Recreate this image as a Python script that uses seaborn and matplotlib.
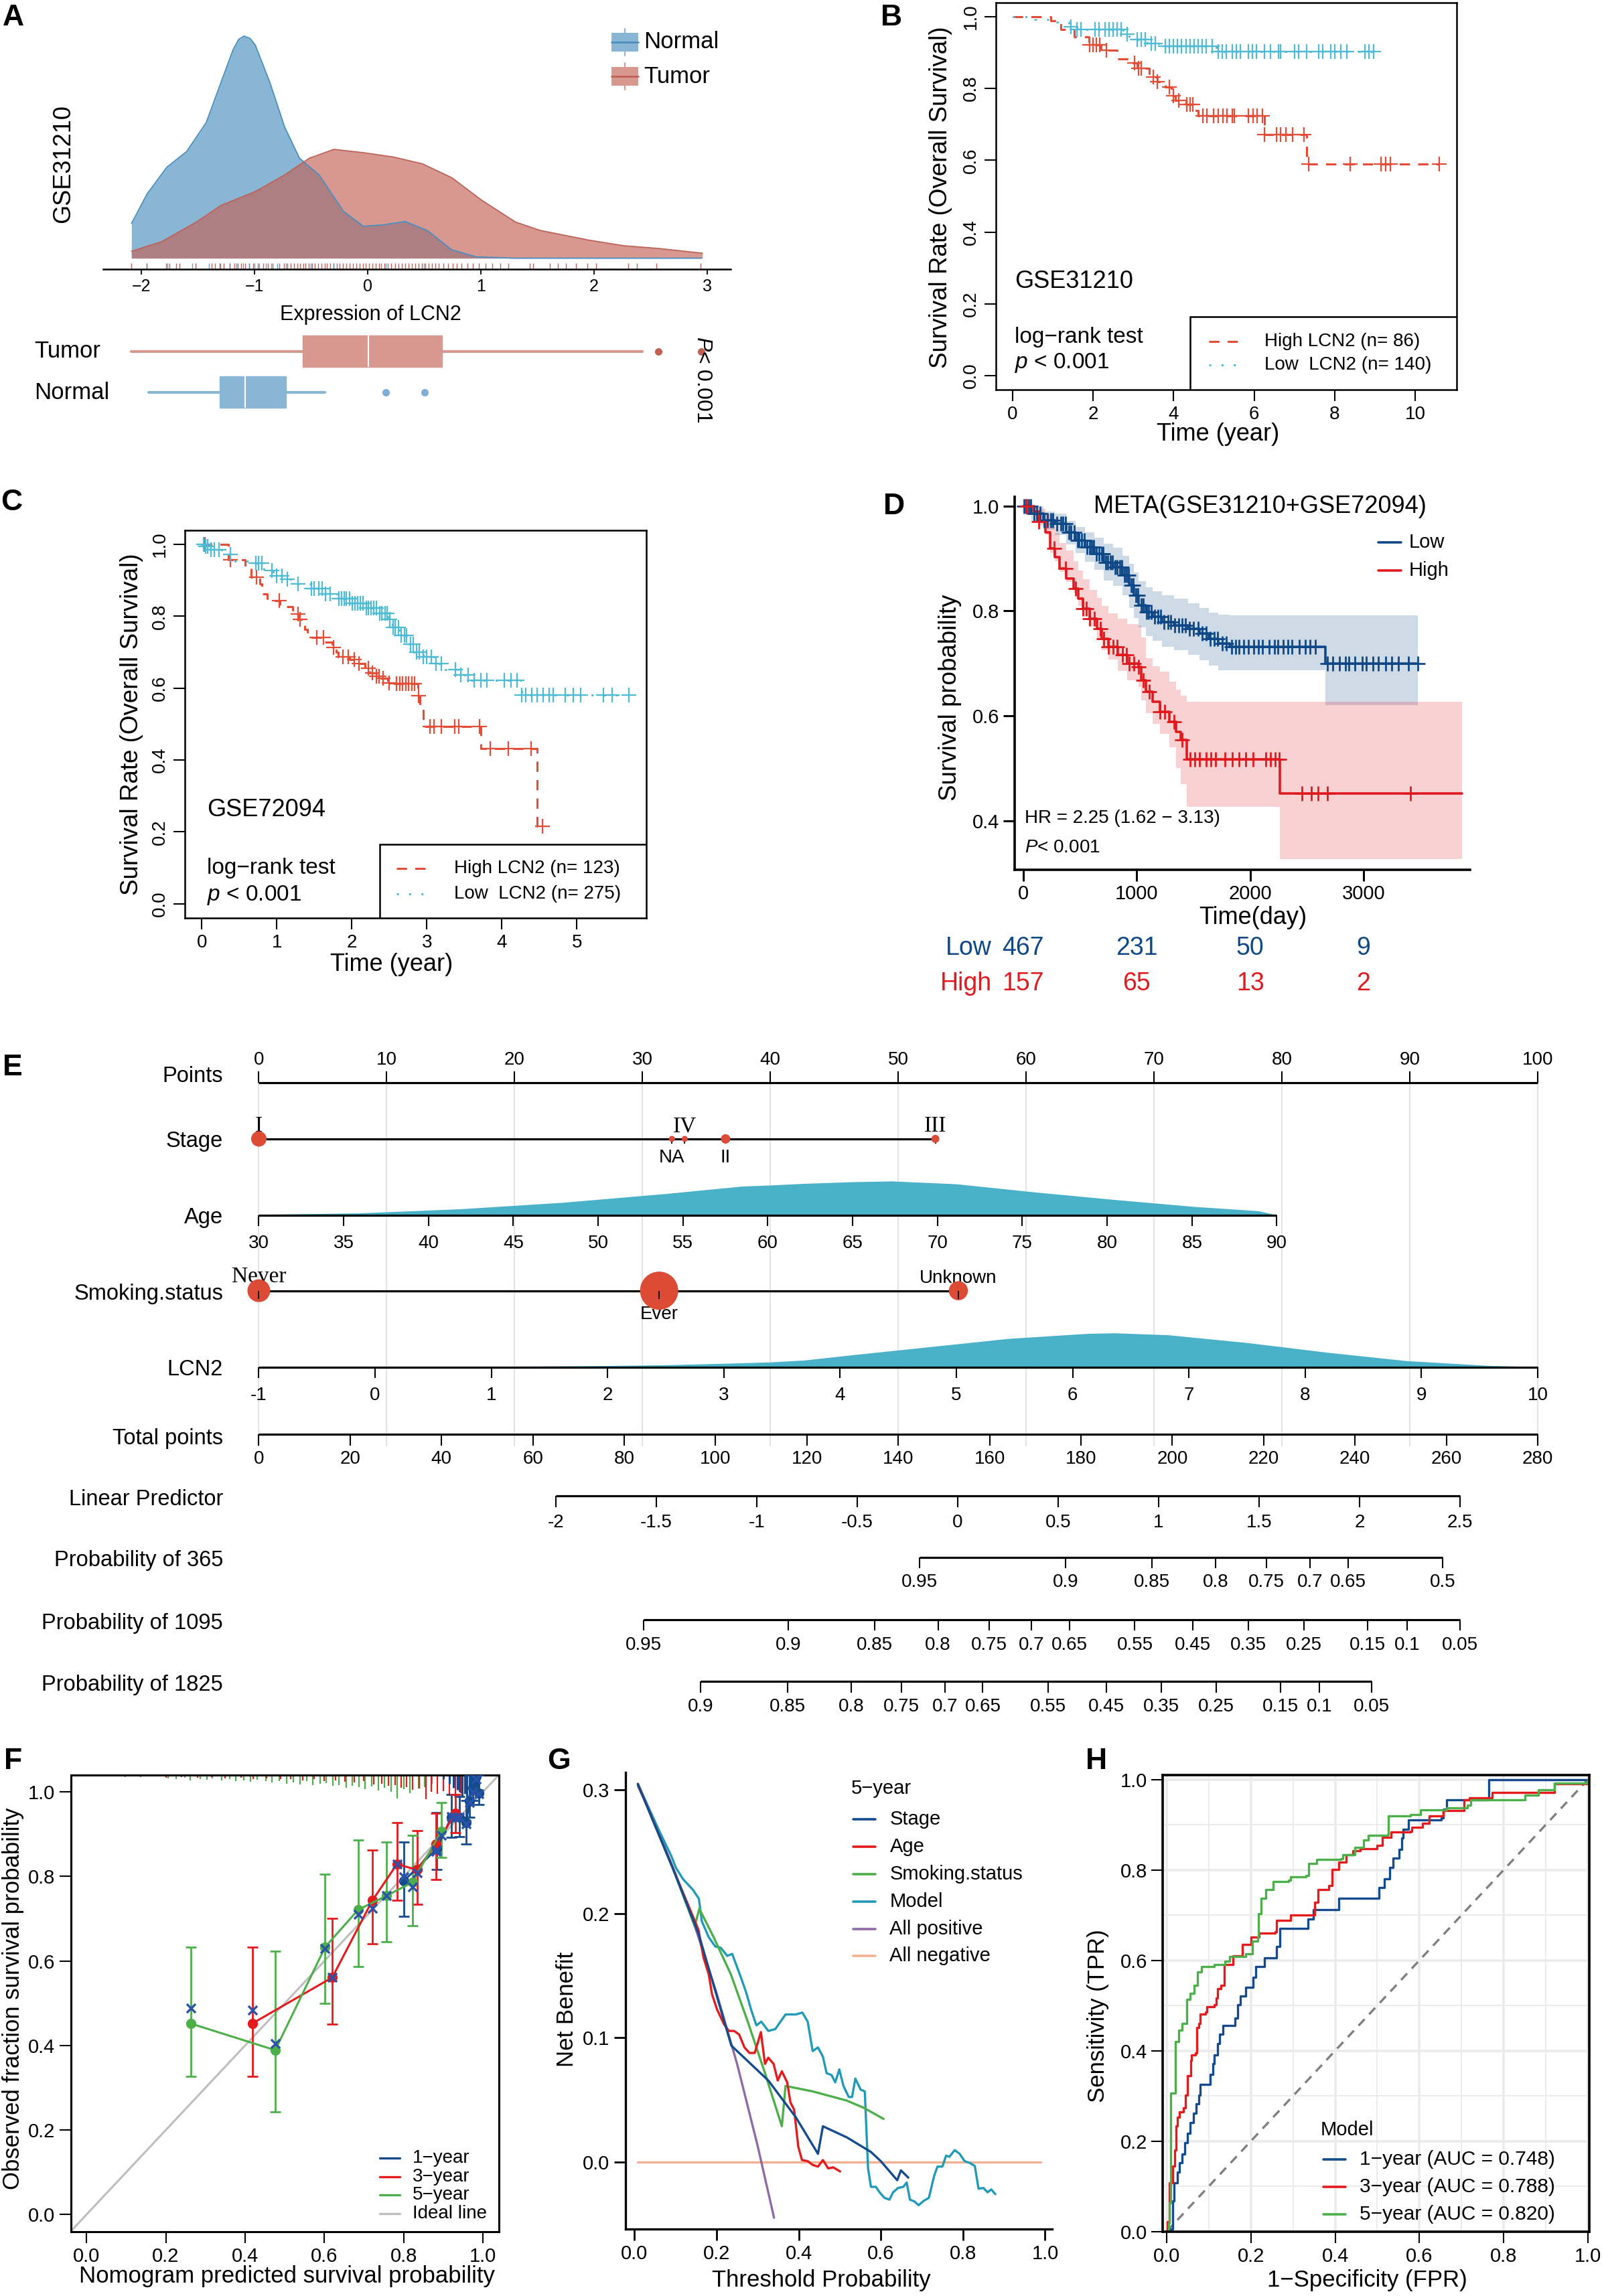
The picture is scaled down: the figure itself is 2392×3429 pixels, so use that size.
import numpy as np
import matplotlib
matplotlib.use("Agg")
import matplotlib.pyplot as plt
import seaborn as sns
from matplotlib.patches import Rectangle
from matplotlib.transforms import blended_transform_factory

W, H = 2392, 3429

# ---------------- A: LCN2 expression in GSE31210 ----------------
normal_x = [-2.087, -1.948, -1.774, -1.60, -1.427, -1.297, -1.188, -1.14, -1.093, -1.04, -0.993, -0.863,
            -0.733, -0.602, -0.429, -0.212, -0.038, 0.135, 0.331, 0.526, 0.743, 0.96, 1.31, 2.0, 2.95]
normal_d = [0.156, 0.29, 0.41, 0.48, 0.61, 0.79, 0.94, 0.985, 1.0, 0.99, 0.96, 0.79,
            0.59, 0.45, 0.375, 0.21, 0.144, 0.15, 0.165, 0.125, 0.0375, 0.006, 0.0, 0.0, 0.0]
tumor_x = [-2.087, -1.818, -1.514, -1.297, -0.993, -0.733, -0.516, -0.299, -0.038, 0.222, 0.483,
           0.743, 1.003, 1.307, 1.524, 1.958, 2.262, 2.566, 2.957]
tumor_d = [0.031, 0.075, 0.1625, 0.2375, 0.30, 0.375, 0.45, 0.49, 0.475, 0.456, 0.425,
           0.3625, 0.2625, 0.1625, 0.125, 0.081, 0.056, 0.044, 0.0225]
rug_tumor = [-2.09, -1.95, -1.78, -1.75, -1.69, -1.66, -1.52, -1.38, -1.35, -1.31, -1.27, -1.22, -1.18,
             -1.15, -1.12, -1.08, -1.05, -1.01, -0.97, -0.92, -0.88, -0.84, -0.78, -0.74, -0.71, -0.68,
             -0.65, -0.62, -0.6, -0.57, -0.55, -0.52, -0.49, -0.47, -0.44, -0.41, -0.38, -0.36, -0.33,
             -0.3, -0.27, -0.25, -0.22, -0.19, -0.16, -0.13, -0.1, -0.07, -0.04, -0.02, 0.01, 0.04, 0.07,
             0.1, 0.12, 0.15, 0.18, 0.21, 0.24, 0.27, 0.3, 0.33, 0.36, 0.39, 0.42, 0.45, 0.48, 0.51, 0.54,
             0.57, 0.6, 0.63, 0.67, 0.71, 0.75, 0.79, 0.83, 0.88, 0.93, 0.98, 1.04, 1.1, 1.17, 1.24, 1.43,
             1.46, 1.61, 1.68, 1.75, 1.84, 1.94, 2.02, 2.3, 2.38, 2.55, 2.94]
rug_normal = [-1.95, -1.77, -1.55, -1.4, -1.3, -1.22, -1.16, -1.1, -1.05, -1.0, -0.96, -0.9, -0.85,
              -0.8, -0.72, -0.5, -0.3, 0.16, 0.5]
box_groups = ["Tumor", "Normal"]
box_whislo = [-2.087, -1.935]
box_q1 = [-0.572, -1.306]
box_med = [0.005, -1.08]
box_q3 = [0.656, -0.72]
box_whishi = [2.427, -0.377]
box_fliers = [[2.566, 2.944], [0.157, 0.504]]

# ---------------- B: GSE31210 Kaplan-Meier ----------------
hiB_t = [0, 0.95, 1.2, 1.53, 1.9, 2.2, 2.6, 2.95, 3.1, 3.4, 3.6, 3.8, 3.95, 4.05, 4.3, 4.5, 4.6, 6.25, 7.3]
hiB_s = [1.0, 0.988, 0.965, 0.943, 0.921, 0.907, 0.882, 0.872, 0.856, 0.832, 0.818, 0.804, 0.779, 0.767,
         0.755, 0.739, 0.723, 0.672, 0.589]
hiB_end = 10.6
hiB_cens = [1.92, 1.99, 2.08, 2.16, 2.33, 3.03, 3.12, 3.2, 3.49, 3.6, 3.89, 4.0, 4.12, 4.32, 4.4, 4.47,
            4.72, 4.82, 4.99, 5.1, 5.22, 5.33, 5.45, 5.51, 5.85, 5.97, 6.08, 6.2, 6.26, 6.55, 6.66, 6.78,
            6.95, 7.24, 7.36, 8.39, 9.15, 9.26, 9.38, 10.59]
loB_t = [0, 0.55, 1.1, 1.4, 1.6, 2.75, 2.9, 3.35, 3.75, 5.05]
loB_s = [1.0, 0.993, 0.985, 0.972, 0.965, 0.951, 0.937, 0.925, 0.918, 0.902]
loB_end = 9.1
loB_cens = [1.45, 1.6, 1.7, 2.05, 2.15, 2.3, 2.4, 2.5, 2.6, 2.7, 2.85, 3.1, 3.2, 3.3, 3.45, 3.55, 3.8,
            3.9, 4.0, 4.1, 4.2, 4.3, 4.4, 4.5, 4.6, 4.7, 4.8, 4.95, 5.1, 5.2, 5.3, 5.45, 5.55, 5.65, 5.85,
            5.95, 6.05, 6.25, 6.4, 6.6, 6.65, 7.0, 7.1, 7.3, 7.6, 7.7, 7.9, 8.0, 8.15, 8.3, 8.75, 8.85, 8.97]

# ---------------- C: GSE72094 Kaplan-Meier ----------------
hiC_t = [0, 0.35, 0.574, 0.66, 0.77, 0.80, 0.873, 1.04, 1.21, 1.3, 1.37, 1.41, 1.64, 1.74, 1.79, 1.82,
         1.97, 2.06, 2.18, 2.24, 2.33, 2.39, 2.48, 2.57, 2.88, 2.91, 2.95, 3.72, 4.47]
hiC_s = [1.0, 0.958, 0.942, 0.909, 0.891, 0.863, 0.843, 0.827, 0.807, 0.791, 0.764, 0.741, 0.728, 0.714,
         0.70, 0.687, 0.68, 0.669, 0.656, 0.642, 0.633, 0.627, 0.615, 0.613, 0.579, 0.552, 0.493, 0.431, 0.215]
hiC_end = 4.55
hiC_cens = [0.04, 0.38, 0.73, 1.03, 1.28, 1.31, 1.53, 1.62, 1.76, 1.88, 1.95, 2.03, 2.1, 2.22, 2.27, 2.33,
            2.36, 2.42, 2.5, 2.6, 2.64, 2.68, 2.72, 2.76, 2.8, 2.84, 2.89, 3.04, 3.1, 3.19, 3.37, 3.43, 3.7,
            3.85, 4.09, 4.39, 4.54]
loC_t = [0, 0.03, 0.11, 0.26, 0.44, 0.62, 0.83, 0.95, 1.1, 1.28, 1.46, 1.64, 1.82, 2.0, 2.18, 2.36, 2.48,
         2.54, 2.63, 2.75, 2.83, 2.95, 3.1, 3.25, 3.43, 3.58, 4.27]
loC_s = [1.0, 0.995, 0.986, 0.972, 0.954, 0.948, 0.927, 0.913, 0.904, 0.891, 0.877, 0.863, 0.85, 0.836,
         0.823, 0.809, 0.791, 0.769, 0.746, 0.723, 0.70, 0.687, 0.669, 0.651, 0.637, 0.622, 0.581]
loC_end = 5.7
loC_cens = [0.02, 0.05, 0.08, 0.12, 0.17, 0.23, 0.38, 0.72, 0.76, 0.8, 0.93, 1.0, 1.07, 1.14, 1.28, 1.46,
            1.5, 1.56, 1.6, 1.65, 1.71, 1.83, 1.86, 1.9, 1.93, 1.97, 2.01, 2.04, 2.08, 2.11, 2.15, 2.19,
            2.22, 2.26, 2.29, 2.33, 2.37, 2.4, 2.44, 2.47, 2.51, 2.55, 2.58, 2.62, 2.66, 2.7, 2.73, 2.78,
            2.82, 2.86, 2.9, 2.95, 3.0, 3.06, 3.12, 3.19, 3.38, 3.45, 3.55, 3.63, 3.72, 3.8, 4.03, 4.12,
            4.2, 4.27, 4.32, 4.4, 4.47, 4.55, 4.63, 4.69, 4.85, 4.95, 5.05, 5.36, 5.47, 5.7]

# ---------------- D: meta cohort KM with confidence bands ----------------
loD_t = [0, 74, 177, 280, 382, 464, 547, 629, 711, 793, 875, 937, 978, 1019, 1081, 1143, 1225, 1328,
         1451, 1554, 1636, 1718, 1821, 2663]
loD_s = [1.0, 0.985, 0.973, 0.966, 0.95, 0.935, 0.922, 0.909, 0.893, 0.884, 0.868, 0.849, 0.830, 0.811,
         0.798, 0.789, 0.779, 0.773, 0.766, 0.757, 0.747, 0.738, 0.731, 0.70]
loD_up = [1.0, 1.0, 0.99, 0.985, 0.972, 0.96, 0.95, 0.94, 0.928, 0.92, 0.905, 0.89, 0.873, 0.857, 0.845,
          0.838, 0.83, 0.823, 0.815, 0.806, 0.797, 0.793, 0.792, 0.792]
loD_lo = [1.0, 0.97, 0.955, 0.945, 0.927, 0.91, 0.894, 0.878, 0.858, 0.848, 0.83, 0.806, 0.787, 0.768,
          0.752, 0.743, 0.732, 0.725, 0.716, 0.706, 0.696, 0.687, 0.687, 0.62]
loD_end = 3480
loD_cens = [8, 25, 47, 66, 98, 121, 150, 187, 214, 246, 262, 298, 331, 349, 372, 401, 423, 452, 478, 493,
            515, 539, 561, 584, 603, 622, 645, 668, 690, 704, 727, 748, 771, 786, 809, 829, 852, 868, 891,
            913, 929, 952, 968, 995, 1012, 1038, 1060, 1087, 1105, 1131, 1158, 1186, 1214, 1241, 1275,
            1302, 1336, 1371, 1398, 1433, 1467, 1502, 1540, 1575, 1611, 1648, 1682, 1715, 1756, 1792,
            1838, 1874, 1903, 1946, 1985, 2031, 2074, 2112, 2168, 2215, 2247, 2290, 2334, 2370, 2431,
            2485, 2530, 2577, 2680, 2731, 2788, 2843, 2870, 2924, 2990, 3027, 3085, 3130, 3198, 3247,
            3310, 3395, 3480]
hiD_t = [0, 95, 136, 197, 238, 280, 321, 382, 444, 485, 526, 588, 650, 691, 752, 834, 916, 1019, 1040,
         1081, 1143, 1205, 1287, 1349, 1390, 1443, 2265]
hiD_s = [1.0, 0.989, 0.97, 0.95, 0.919, 0.903, 0.881, 0.862, 0.843, 0.823, 0.804, 0.785, 0.766, 0.747,
         0.731, 0.716, 0.70, 0.693, 0.668, 0.646, 0.627, 0.608, 0.589, 0.570, 0.554, 0.517, 0.452]
hiD_up = [1.0, 1.0, 0.995, 0.985, 0.96, 0.948, 0.93, 0.915, 0.895, 0.877, 0.86, 0.84, 0.825, 0.81, 0.795,
          0.785, 0.775, 0.773, 0.75, 0.71, 0.695, 0.684, 0.665, 0.65, 0.638, 0.627, 0.627]
hiD_lo = [1.0, 0.98, 0.962, 0.945, 0.91, 0.895, 0.875, 0.855, 0.835, 0.81, 0.79, 0.77, 0.745, 0.725,
          0.707, 0.685, 0.668, 0.655, 0.63, 0.605, 0.585, 0.565, 0.54, 0.5, 0.47, 0.427, 0.327]
hiD_end = 3870
hiD_cens = [33, 136, 271, 374, 464, 526, 555, 588, 629, 678, 711, 752, 793, 826, 875, 908, 937, 978, 1019,
            1061, 1114, 1205, 1246, 1328, 1402, 1471, 1512, 1554, 1615, 1656, 1697, 1780, 1841, 1903,
            1964, 2026, 2141, 2182, 2223, 2255, 2458, 2540, 2602, 2684, 3416]
risk_times = [0, 1000, 2000, 3000]
risk_low = [467, 231, 50, 9]
risk_high = [157, 65, 13, 2]

# ---------------- E: nomogram ----------------
points_ticks = [0, 10, 20, 30, 40, 50, 60, 70, 80, 90, 100]
stage_levels = ["I", "NA", "IV", "II", "III"]
stage_points = [0, 32.3, 33.3, 36.5, 52.9]
stage_diam = [23, 9, 9, 14, 12]
age_ticks = [30, 35, 40, 45, 50, 55, 60, 65, 70, 75, 80, 85, 90]
age_points_at_90 = 79.6
age_dens_x = [30, 35.9, 41.9, 47.9, 54.0, 58.5, 60.1, 62.1, 65.0, 67.3, 71.1, 75.8, 80.5, 85.2, 88.9, 90]
age_dens_h = [0.8, 2.9, 9.1, 18.7, 31.9, 43.0, 44.5, 47.0, 49.5, 50.6, 46.4, 34.0, 22.8, 12.4, 6.2, 0]
smoke_levels = ["Never", "Ever", "Unknown"]
smoke_points = [0, 31.3, 54.7]
smoke_diam = [34, 57, 28.5]
lcn2_ticks = [-1, 0, 1, 2, 3, 4, 5, 6, 7, 8, 9, 10]
lcn2_dens_x = [-1, 0.5, 1.2, 2.0, 2.5, 3.0, 3.4, 3.7, 4.08, 4.77, 5.45, 6.13, 6.36, 6.82, 7.5, 8.19, 8.87,
               9.56, 10]
lcn2_dens_h = [0.4, 0.8, 1.2, 2.2, 3.3, 5.5, 7.5, 10.5, 17.8, 30.3, 42.7, 50.2, 51, 48.1, 36.5, 22, 9.5,
               2.5, 0.4]
total_ticks = [0, 20, 40, 60, 80, 100, 120, 140, 160, 180, 200, 220, 240, 260, 280]
lp_ticks = [-2, -1.5, -1, -0.5, 0, 0.5, 1, 1.5, 2, 2.5]
lp_labels = ["-2", "-1.5", "-1", "-0.5", "0", "0.5", "1", "1.5", "2", "2.5"]
lp_total_at_min, lp_total_at_max = 65.0, 263.0
p365_labels = ["0.95", "0.9", "0.85", "0.8", "0.75", "0.7", "0.65", "0.5"]
p365_total = [144.7, 176.6, 195.6, 209.5, 220.6, 230.2, 238.5, 259.2]
p1095_labels = ["0.95", "0.9", "0.85", "0.8", "0.75", "0.7", "0.65", "0.55", "0.45", "0.35", "0.25",
                "0.15", "0.1", "0.05"]
p1095_total = [84.2, 115.9, 134.9, 148.7, 159.9, 169.2, 177.5, 191.8, 204.5, 216.6, 228.8, 242.7, 251.4, 263.0]
p1825_labels = ["0.9", "0.85", "0.8", "0.75", "0.7", "0.65", "0.55", "0.45", "0.35", "0.25", "0.15",
                "0.1", "0.05"]
p1825_total = [96.7, 115.7, 129.7, 140.7, 150.3, 158.5, 172.8, 185.5, 197.6, 209.6, 223.7, 232.2, 243.6]

# ---------------- F: calibration ----------------
cal5_x = [0.263, 0.476, 0.602, 0.685, 0.756, 0.822, 0.895]
cal5_y = [0.452, 0.389, 0.633, 0.721, 0.754, 0.786, 0.907]
cal5_lo = [0.327, 0.243, 0.50, 0.587, 0.646, 0.684, 0.845]
cal5_hi = [0.632, 0.623, 0.805, 0.886, 0.881, 0.897, 0.975]
cal5_km = [0.489, 0.405, 0.630, 0.710, 0.754, 0.776, 0.897]
cal3_x = [0.418, 0.620, 0.721, 0.783, 0.834, 0.882, 0.931]
cal3_y = [0.452, 0.561, 0.743, 0.829, 0.816, 0.877, 0.949]
cal3_lo = [0.327, 0.45, 0.640, 0.743, 0.734, 0.793, 0.903]
cal3_hi = [0.632, 0.701, 0.862, 0.927, 0.909, 0.949, 0.994]
cal3_km = [0.484, 0.561, 0.725, 0.829, 0.808, 0.860, 0.940]
cal1_x = [0.80, 0.884, 0.92, 0.941, 0.958, 0.966, 0.975, 0.983, 0.989]
cal1_y = [0.789, 0.866, 0.94, 0.94, 0.928, 0.978, 1.01, 1.037, 0.998]
cal1_lo = [0.706, 0.816, 0.892, 0.894, 0.877, 0.94, 0.98, 1.0, 0.97]
cal1_hi = [0.881, 0.952, 0.994, 0.99, 0.98, 1.04, 1.04, 1.04, 1.04]
cal1_km = [0.799, 0.862, 0.942, 0.94, 0.925, 0.975, 1.0, 1.03, 0.995]
rug5_x = [0.034, 0.055, 0.088, 0.097, 0.118, 0.136, 0.168, 0.205, 0.226, 0.248, 0.262, 0.287, 0.303, 0.318,
          0.341, 0.362, 0.377, 0.396, 0.414, 0.43, 0.452, 0.468, 0.487, 0.505, 0.522, 0.538, 0.556, 0.571,
          0.589, 0.604, 0.622, 0.637, 0.655, 0.671, 0.688, 0.703, 0.719, 0.736, 0.752, 0.768, 0.783, 0.8,
          0.816, 0.838, 0.853, 0.872]
rug5_h = [0.002, 0.003, 0.003, 0.004, 0.003, 0.004, 0.003, 0.008, 0.01, 0.006, 0.012, 0.009, 0.011, 0.008,
          0.013, 0.01, 0.014, 0.012, 0.016, 0.011, 0.015, 0.018, 0.014, 0.02, 0.017, 0.022, 0.015, 0.024,
          0.021, 0.019, 0.026, 0.023, 0.03, 0.025, 0.028, 0.033, 0.027, 0.036, 0.03, 0.04, 0.056, 0.034,
          0.042, 0.031, 0.028, 0.02]
rug3_x = [0.2, 0.24, 0.28, 0.315, 0.35, 0.39, 0.42, 0.455, 0.49, 0.515, 0.545, 0.575, 0.6, 0.628, 0.652,
          0.676, 0.7, 0.724, 0.745, 0.762, 0.778, 0.793, 0.808, 0.823, 0.84, 0.857, 0.87, 0.885, 0.9, 0.915,
          0.93, 0.945, 0.955]
rug3_h = [0.006, 0.004, 0.007, 0.005, 0.008, 0.006, 0.009, 0.008, 0.01, 0.009, 0.012, 0.01, 0.014, 0.012,
          0.016, 0.018, 0.015, 0.022, 0.02, 0.026, 0.024, 0.03, 0.028, 0.035, 0.032, 0.057, 0.04, 0.045,
          0.038, 0.048, 0.05, 0.042, 0.035]
rug1_x = [0.9, 0.915, 0.925, 0.935, 0.94, 0.948, 0.955, 0.96, 0.966, 0.972, 0.978, 0.983, 0.988]
rug1_h = [0.01, 0.02, 0.03, 0.035, 0.04, 0.05, 0.045, 0.055, 0.05, 0.045, 0.04, 0.035, 0.025]

# ---------------- G: decision curves (5-year) ----------------
stage_nb_x = [0.0083, 0.093, 0.156, 0.236, 0.326, 0.393, 0.447, 0.459, 0.517, 0.576, 0.6, 0.64, 0.649, 0.667]
stage_nb_y = [0.3045, 0.237, 0.184, 0.0937, 0.0656, 0.036, 0.0065, 0.0287, 0.0198, 0.008, 0.0006, -0.0148,
              -0.0068, -0.0127]
age_nb_x = [0.0083, 0.093, 0.156, 0.168, 0.181, 0.189, 0.201, 0.218, 0.23, 0.243, 0.255, 0.268, 0.28,
            0.293, 0.308, 0.318, 0.326, 0.339, 0.349, 0.359, 0.372, 0.38, 0.389, 0.399, 0.408, 0.422, 0.434,
            0.447, 0.459, 0.472, 0.484, 0.501]
age_nb_y = [0.3045, 0.237, 0.187, 0.165, 0.151, 0.135, 0.123, 0.111, 0.1055, 0.1055, 0.1026, 0.0922,
            0.0878, 0.0878, 0.1046, 0.0789, 0.084, 0.0789, 0.0656, 0.073, 0.0641, 0.0479, 0.042, 0.0124,
            0.0015, 0.0006, -0.0024, -0.0038, 0.0015, -0.0053, -0.0044, -0.0077]
smoke_nb_x = [0.0083, 0.093, 0.147, 0.158, 0.193, 0.235, 0.276, 0.318, 0.359, 0.368, 0.434, 0.517, 0.559, 0.607]
smoke_nb_y = [0.3045, 0.237, 0.19, 0.204, 0.181, 0.151, 0.113, 0.0715, 0.0287, 0.0612, 0.0568, 0.0494,
              0.0435, 0.0346]
model_nb_x = [0.0083, 0.06, 0.089, 0.101, 0.118, 0.143, 0.157, 0.164, 0.181, 0.197, 0.21, 0.226, 0.238,
              0.26, 0.272, 0.285, 0.297, 0.309, 0.326, 0.343, 0.368, 0.393, 0.409, 0.422, 0.434, 0.447,
              0.459, 0.468, 0.48, 0.489, 0.499, 0.509, 0.522, 0.53, 0.538, 0.551, 0.561, 0.569, 0.576,
              0.588, 0.597, 0.609, 0.621, 0.63, 0.642, 0.655, 0.663, 0.671, 0.682, 0.692, 0.705, 0.717,
              0.73, 0.738, 0.75, 0.759, 0.767, 0.78, 0.792, 0.804, 0.817, 0.829, 0.838, 0.85, 0.86, 0.869,
              0.879]
model_nb_y = [0.3045, 0.267, 0.247, 0.237, 0.228, 0.219, 0.212, 0.194, 0.181, 0.1735, 0.1726, 0.166,
              0.1676, 0.148, 0.1366, 0.1218, 0.11, 0.113, 0.1055, 0.107, 0.1188, 0.1188, 0.1203, 0.113,
              0.0893, 0.0922, 0.0848, 0.0715, 0.070, 0.0641, 0.0745, 0.0612, 0.0523, 0.0523, 0.0671,
              0.0582, 0.0568, -0.0053, -0.0201, -0.0201, -0.0245, -0.029, -0.0304, -0.0245, -0.021,
              -0.0201, -0.0166, -0.0304, -0.0319, -0.0349, -0.0313, -0.029, -0.0112, -0.0038, -0.0038,
              0.005, 0.0041, 0.0095, 0.0065, 0.0006, -0.0009, -0.0033, -0.0216, -0.021, -0.0245, -0.0222,
              -0.026]
allpos_x = [0.0083, 0.05, 0.1, 0.15, 0.2, 0.25, 0.3, 0.34]
allpos_y = [0.303, 0.273, 0.232, 0.187, 0.136, 0.079, 0.013, -0.045]
allneg_x = [0.0083, 0.99]
allneg_y = [0.0, 0.0]

# ---------------- H: time-dependent ROC ----------------
roc1_x = [0, 0.008, 0.014, 0.018, 0.026, 0.03, 0.037, 0.043, 0.049, 0.055, 0.063, 0.07, 0.076, 0.08, 0.103,
          0.109, 0.113, 0.121, 0.125, 0.133, 0.162, 0.169, 0.175, 0.187, 0.205, 0.212, 0.232, 0.261, 0.269,
          0.331, 0.335, 0.348, 0.408, 0.408, 0.502, 0.504, 0.516, 0.529, 0.537, 0.552, 0.558, 0.562, 0.574,
          0.652, 0.657, 0.665, 0.764, 0.765, 1.0]
roc1_y = [0, 0.006, 0.067, 0.107, 0.131, 0.152, 0.172, 0.196, 0.217, 0.241, 0.261, 0.282, 0.302, 0.326,
          0.347, 0.371, 0.391, 0.416, 0.436, 0.456, 0.472, 0.501, 0.521, 0.541, 0.562, 0.586, 0.606, 0.631,
          0.671, 0.671, 0.692, 0.712, 0.716, 0.738, 0.738, 0.761, 0.781, 0.805, 0.826, 0.846, 0.87, 0.89,
          0.911, 0.915, 0.935, 0.955, 0.959, 1.0, 1.0]
roc3_x = [0, 0.002, 0.006, 0.014, 0.019, 0.022, 0.026, 0.03, 0.04, 0.045, 0.049, 0.057, 0.059, 0.068, 0.072,
          0.076, 0.08, 0.092, 0.096, 0.113, 0.117, 0.121, 0.129, 0.136, 0.158, 0.179, 0.201, 0.22, 0.257,
          0.261, 0.294, 0.335, 0.352, 0.36, 0.385, 0.393, 0.409, 0.426, 0.442, 0.459, 0.5, 0.512, 0.533,
          0.578, 0.582, 0.607, 0.623, 0.657, 0.706, 0.718, 0.772, 0.912, 0.92, 1.0]
roc3_y = [0, 0.022, 0.107, 0.144, 0.18, 0.233, 0.253, 0.265, 0.274, 0.302, 0.344, 0.379, 0.391, 0.395,
          0.452, 0.46, 0.481, 0.485, 0.497, 0.501, 0.517, 0.537, 0.545, 0.59, 0.61, 0.635, 0.651, 0.661,
          0.663, 0.688, 0.70, 0.70, 0.728, 0.756, 0.765, 0.801, 0.817, 0.834, 0.842, 0.847, 0.854, 0.872,
          0.884, 0.886, 0.894, 0.903, 0.919, 0.931, 0.955, 0.959, 0.972, 0.972, 0.99, 0.99]
roc5_x = [0, 0.004, 0.007, 0.01, 0.018, 0.02, 0.029, 0.037, 0.047, 0.055, 0.065, 0.073, 0.082, 0.113, 0.138,
          0.15, 0.187, 0.203, 0.216, 0.218, 0.224, 0.235, 0.253, 0.29, 0.294, 0.331, 0.337, 0.356, 0.414,
          0.418, 0.446, 0.467, 0.479, 0.525, 0.526, 0.578, 0.603, 0.665, 0.714, 0.722, 0.846, 0.85, 0.883,
          0.92, 1.0]
roc5_y = [0, 0.018, 0.0625, 0.306, 0.306, 0.42, 0.446, 0.46, 0.513, 0.527, 0.545, 0.574, 0.586, 0.59, 0.598,
          0.608, 0.614, 0.643, 0.651, 0.704, 0.737, 0.756, 0.774, 0.777, 0.785, 0.787, 0.815, 0.823, 0.825,
          0.834, 0.85, 0.866, 0.877, 0.878, 0.919, 0.923, 0.933, 0.937, 0.943, 0.955, 0.955, 0.965, 0.978,
          0.992, 1.0]
roc_labels = ["1\u2212year (AUC = 0.748)", "3\u2212year (AUC = 0.788)", "5\u2212year (AUC = 0.820)"]

# ---------------- colours ----------------
A_BLUE, A_RED = "#4B8FC0", "#C06156"
A_BLUE_L, A_RED_L = "#8AB6D6", "#D6988F"
KM_RED, KM_TEAL = "#E64B35", "#4DBBD5"
D_BLUE, D_RED = "#0F4887", "#E0191E"
E_RED, E_TEAL = "#DC4B35", "#49B1C8"
NAVY, RED, GREEN = "#134B8E", "#E41A1C", "#4DAF4A"
TEAL_G, PURPLE, SALMON = "#1F9AB8", "#8E6AA8", "#F5B094"
XBLUE = "#2A52A8"

sns.set_theme(style="white", rc={"axes.edgecolor": "black", "text.color": "black",
                                 "xtick.color": "black", "ytick.color": "black",
                                 "axes.labelcolor": "black"})
plt.rcParams["font.family"] = ["Liberation Sans", "DejaVu Sans"]
plt.rcParams["mathtext.fontset"] = "custom"
plt.rcParams["mathtext.it"] = "Liberation Sans:italic"
plt.rcParams["mathtext.rm"] = "Liberation Sans"

fig = plt.figure(figsize=(W / 100, H / 100), dpi=100)


def add_ax(l, t, r, b, **kw):
    ax = fig.add_axes([l / W, 1 - b / H, (r - l) / W, (b - t) / H], **kw)
    ax.set_facecolor("none")
    return ax


ov = add_ax(0, 0, W, H, zorder=20)
ov.set_xlim(0, W)
ov.set_ylim(H, 0)
ov.axis("off")


def txt(x, y, s, size, **kw):
    kw.setdefault("ha", "center")
    kw.setdefault("va", "center")
    ov.text(x, y, s, fontsize=size, **kw)


def km_at(ts, ss, t):
    idx = np.searchsorted(np.asarray(ts, float), np.asarray(t, float), side="right") - 1
    return np.asarray(ss)[idx]


def draw_km(ax, ts, ss, t_end, cens, color, ls, lw=2.2, ms=230, mlw=1.6):
    x = list(ts) + [t_end]
    y = list(ss) + [ss[-1]]
    sns.lineplot(x=x, y=y, ax=ax, color=color, lw=lw, linestyle=ls, drawstyle="steps-post",
                 estimator=None, sort=False)
    sns.scatterplot(x=cens, y=km_at(ts, ss, cens), ax=ax, marker="+", s=ms, color=color,
                    linewidth=mlw, zorder=3)


def r_frame(ax, lw=1.8, size=20):
    for sp in ax.spines.values():
        sp.set_visible(True)
        sp.set_linewidth(lw)
        sp.set_color("black")
    ax.tick_params(direction="out", length=12, width=1.5, labelsize=size, bottom=True, left=True,
                   pad=5, colors="black")


surv_ticks = [0, 0.2, 0.4, 0.6, 0.8, 1.0]
surv_labels = ["0.0", "0.2", "0.4", "0.6", "0.8", "1.0"]

# =================== Panel A ===================
axA = add_ax(154, 30, 1091, 402)
axA.fill_between(normal_x, 0, normal_d, color=A_BLUE, alpha=0.65, lw=0)
sns.lineplot(x=normal_x, y=normal_d, ax=axA, color=A_BLUE, lw=1.3, estimator=None, sort=False)
axA.fill_between(tumor_x, 0, tumor_d, color=A_RED, alpha=0.65, lw=0)
sns.lineplot(x=tumor_x, y=tumor_d, ax=axA, color=A_RED, lw=1.3, estimator=None, sort=False)
sns.rugplot(x=rug_tumor, ax=axA, height=0.025, color="#B8473B", lw=1.8, alpha=0.85)
sns.rugplot(x=rug_normal, ax=axA, height=0.025, color=A_BLUE, lw=1.8, alpha=0.85)
axA.set_xlim(-2.337, 3.207)
axA.set_ylim(-0.0494, 1.072)
for s in ["top", "right", "left"]:
    axA.spines[s].set_visible(False)
axA.spines["bottom"].set_linewidth(1.8)
axA.set_xticks([-2, -1, 0, 1, 2, 3])
axA.set_yticks([])
axA.tick_params(axis="x", bottom=True, length=6, width=1.3, labelsize=18, pad=4)
axA.set_xlabel("")
axA.set_ylabel("")
txt(553, 470, "Expression of LCN2", 22)
txt(95, 245, "GSE31210", 26, rotation=90)
for y0, face, line, lab in [(49, A_BLUE_L, A_BLUE, "Normal"), (100, A_RED_L, A_RED, "Tumor")]:
    ov.add_patch(Rectangle((913, y0), 40, 28, facecolor=face, edgecolor="none"))
    ov.plot([913, 953], [y0 + 14, y0 + 14], color=line, lw=2)
    ov.plot([933, 933], [y0 - 6, y0], color=face, lw=1.5)
    ov.plot([933, 933], [y0 + 28, y0 + 34], color=face, lw=1.5)
    txt(961, y0 + 14, lab, 25, ha="left")

axAb = add_ax(154, 490, 1091, 620)
box_stats = []
for i, g in enumerate(box_groups):
    box_stats.append(dict(label=g, whislo=box_whislo[i], q1=box_q1[i], med=box_med[i], q3=box_q3[i],
                          whishi=box_whishi[i], fliers=box_fliers[i]))
bkw = dict(positions=[1, 0], widths=0.77, patch_artist=True, showcaps=False, showfliers=True)
try:
    bp = axAb.bxp(box_stats, orientation="horizontal", **bkw)
except TypeError:
    bp = axAb.bxp(box_stats, vert=False, **bkw)
for i, (face, dark) in enumerate([(A_RED_L, A_RED), (A_BLUE_L, A_BLUE)]):
    bp["boxes"][i].set_facecolor(face)
    bp["boxes"][i].set_edgecolor(face)
    for wk in bp["whiskers"][2 * i:2 * i + 2]:
        wk.set_color(face)
        wk.set_linewidth(3)
    bp["medians"][i].set_color("white")
    bp["medians"][i].set_linewidth(1.5)
    bp["fliers"][i].set_markerfacecolor(dark if i == 0 else "#7FADD3")
    bp["fliers"][i].set_markeredgecolor("none")
    bp["fliers"][i].set_markersize(8)
axAb.set_xlim(-2.337, 3.207)
axAb.set_ylim(-0.558, 1.563)
axAb.axis("off")
txt(51, 524, "Tumor", 25, ha="left")
txt(51, 586, "Normal", 25, ha="left")
txt(1049, 567, r"$P$< 0.001", 23, rotation=-90)

# =================== Panel B ===================
axB = add_ax(1486.6, 3.5, 2174.6, 582.4)
draw_km(axB, hiB_t, hiB_s, hiB_end, hiB_cens, KM_RED, (0, (5, 4)))
draw_km(axB, loB_t, loB_s, loB_end, loB_cens, KM_TEAL, (0, (1, 5)))
axB.set_xlim(-0.424, 11.024)
axB.set_ylim(-0.04, 1.04)
r_frame(axB)
axB.set_xticks([0, 2, 4, 6, 8, 10])
axB.set_yticks(surv_ticks, surv_labels, rotation=90, va="center")
axB.set_xlabel("")
axB.set_ylabel("")
axB.text(0.05, 0.262, "GSE31210", fontsize=26, va="center")
axB.text(0.05, 0.108, "log\u2212rank test", fontsize=24, va="center")
axB.text(0.05, 0.035, r"$p$ < 0.001", fontsize=24, va="center")
axB.add_patch(Rectangle((4.41, -0.04), 11.024 - 4.41, 0.205, facecolor="white", edgecolor="black",
                        lw=1.8, zorder=4))
axB.plot([4.87, 5.62], [0.096, 0.096], color=KM_RED, lw=2.2, ls=(0, (5, 4)), zorder=5)
axB.plot([4.87, 5.62], [0.029, 0.029], color=KM_TEAL, lw=2.2, ls=(0, (1, 5)), zorder=5)
axB.text(6.26, 0.096, "High LCN2 (n= 86)", fontsize=20, va="center", zorder=5)
axB.text(6.26, 0.029, "Low  LCN2 (n= 140)", fontsize=20, va="center", zorder=5)
txt(1404, 295, "Survival Rate (Overall Survival)", 26.5, rotation=90)
txt(1819, 648, "Time (year)", 26)

# =================== Panel C ===================
axC = add_ax(275.9, 791.7, 965, 1371)
draw_km(axC, hiC_t, hiC_s, hiC_end, hiC_cens, KM_RED, (0, (5, 4)))
draw_km(axC, loC_t, loC_s, loC_end, loC_cens, KM_TEAL, (0, (1, 5)))
axC.set_xlim(-0.228, 5.928)
axC.set_ylim(-0.04, 1.04)
r_frame(axC)
axC.set_xticks([0, 1, 2, 3, 4, 5])
axC.set_yticks(surv_ticks, surv_labels, rotation=90, va="center")
axC.set_xlabel("")
axC.set_ylabel("")
axC.text(0.066, 0.262, "GSE72094", fontsize=26, va="center")
axC.text(0.066, 0.0995, "log\u2212rank test", fontsize=24, va="center")
axC.text(0.066, 0.023, r"$p$ < 0.001", fontsize=24, va="center")
axC.add_patch(Rectangle((2.37, -0.04), 5.928 - 2.37, 0.205, facecolor="white", edgecolor="black",
                        lw=1.8, zorder=4))
axC.plot([2.6, 3.04], [0.098, 0.098], color=KM_RED, lw=2.2, ls=(0, (5, 4)), zorder=5)
axC.plot([2.6, 3.04], [0.027, 0.027], color=KM_TEAL, lw=2.2, ls=(0, (1, 5)), zorder=5)
axC.text(3.36, 0.098, "High LCN2 (n= 123)", fontsize=20, va="center", zorder=5)
axC.text(3.36, 0.027, "Low  LCN2 (n= 275)", fontsize=20, va="center", zorder=5)
txt(197, 1082, "Survival Rate (Overall Survival)", 26.5, rotation=90)
txt(585, 1440, "Time (year)", 26)

# =================== Panel D ===================
axD = add_ax(1514.5, 742.4, 2194.8, 1298.5)
for ts, up, lo, t_end, col in [(loD_t, loD_up, loD_lo, loD_end, D_BLUE), (hiD_t, hiD_up, hiD_lo, hiD_end, D_RED)]:
    axD.fill_between(list(ts) + [t_end], list(lo) + [lo[-1]], list(up) + [up[-1]], step="post",
                     color=col, alpha=0.2, lw=0)
draw_km(axD, loD_t, loD_s, loD_end, loD_cens, D_BLUE, "-", lw=2.6, ms=260, mlw=2.0)
draw_km(axD, hiD_t, hiD_s, hiD_end, hiD_cens, D_RED, "-", lw=2.6, ms=260, mlw=2.0)
axD.set_xlim(-78, 3938)
axD.set_ylim(0.307, 1.017)
for s in ["top", "right"]:
    axD.spines[s].set_visible(False)
for s in ["left", "bottom"]:
    axD.spines[s].set_linewidth(2.6)
    axD.spines[s].set_color("black")
axD.set_xticks(risk_times)
axD.set_yticks([0.4, 0.6, 0.8, 1.0], ["0.4", "0.6", "0.8", "1.0"])
axD.tick_params(direction="out", length=12, width=2.2, labelsize=21, bottom=True, left=True, pad=4)
axD.set_xlabel("")
axD.set_ylabel("")
txt(1881, 757, "META(GSE31210+GSE72094)", 26)
ov.plot([2058, 2092], [809.5, 809.5], color=D_BLUE, lw=2.6)
ov.plot([2058, 2092], [851.8, 851.8], color=D_RED, lw=2.6)
txt(2104, 809.5, "Low", 21, ha="left")
txt(2104, 851.8, "High", 21, ha="left")
txt(1530, 1222, "HR = 2.25 (1.62 \u2212 3.13)", 20, ha="left")
txt(1530, 1266, r"$P$< 0.001", 20, ha="left")
txt(1418, 1042, "Survival probability", 26.5, rotation=90)
txt(1871, 1370, "Time(day)", 26)
trD = blended_transform_factory(axD.transData, ov.transData)
txt(1481, 1416, "Low", 27, ha="right", color=D_BLUE)
txt(1481, 1469, "High", 27, ha="right", color=D_RED)
for t, nl, nh in zip(risk_times, risk_low, risk_high):
    ov.text(t, 1416, str(nl), transform=trD, fontsize=27, ha="center", va="center", color=D_BLUE)
    ov.text(t, 1469, str(nh), transform=trD, fontsize=27, ha="center", va="center", color=D_RED)

# =================== Panel E (nomogram) ===================
axE = add_ax(0, 1540, W, 2570)
axE.set_xlim(-20.24, 105.03)
axE.set_ylim(2570, 1540)
axE.axis("off")
y_pts, y_stage, y_age, y_smoke, y_lcn2, y_total = 1616.7, 1700.9, 1814.5, 1927.6, 2041.7, 2142.0
y_lp, y_p365, y_p1095, y_p1825 = 2234.0, 2325.8, 2418.6, 2511.0


def age_to_pts(a):
    return (np.asarray(a, float) - 30) * age_points_at_90 / 60


def lcn2_to_pts(v):
    return (np.asarray(v, float) + 1) * 100 / 11


def total_to_pts(t):
    return np.asarray(t, float) * 100 / 280


def lp_to_pts(v):
    tp = lp_total_at_min + (np.asarray(v, float) + 2) * (lp_total_at_max - lp_total_at_min) / 4.5
    return total_to_pts(tp)


def nomo_scale(y, pos, labels, up=False, off=38, fs=20):
    pos = np.asarray(pos, float)
    axE.hlines(y, pos.min(), pos.max(), color="black", lw=2.3, zorder=3)
    d = -16.6 if up else 16.6
    axE.vlines(pos, y, y + d, color="black", lw=1.5, zorder=3)
    ly = y - off if up else y + off
    for p, lab in zip(pos, labels):
        axE.text(p, ly, lab, fontsize=fs, ha="center", va="center")


axE.vlines(points_ticks, y_pts, 2160, color="#E4E4E4", lw=1.6, zorder=0)
nomo_scale(y_pts, points_ticks, [str(v) for v in points_ticks], up=True, off=34)

# stage
axE.hlines(y_stage, 0, max(stage_points), color="black", lw=2.3, zorder=3)
axE.vlines(stage_points, y_stage, y_stage + 7, color="black", lw=1.3, zorder=3)
axE.scatter(stage_points, [y_stage] * len(stage_points), s=(np.array(stage_diam) * 0.72) ** 2,
            color=E_RED, zorder=4, linewidths=0)
serif = ["Liberation Serif", "DejaVu Serif"]
for lev, p in zip(stage_levels, stage_points):
    if lev in ("NA", "II"):
        axE.text(p, 1728.6, lev, fontsize=20, ha="center", va="center")
    else:
        axE.text(p, 1682, lev, fontsize=24, ha="center", va="center", family=serif)

# age
axE.fill_between(age_to_pts(age_dens_x), y_age, y_age - np.asarray(age_dens_h), color=E_TEAL, lw=0, zorder=2)
nomo_scale(y_age, age_to_pts(age_ticks), [str(v) for v in age_ticks], off=42.5)

# smoking status
axE.hlines(y_smoke, 0, max(smoke_points), color="black", lw=2.3, zorder=3)
axE.scatter(smoke_points, [y_smoke] * len(smoke_points), s=(np.array(smoke_diam) * 0.72) ** 2,
            color=E_RED, zorder=4, linewidths=0)
axE.vlines(smoke_points, y_smoke, y_smoke + 12, color="black", lw=1.3, zorder=5)
axE.text(smoke_points[0], 1907, smoke_levels[0], fontsize=24, ha="center", va="center", family=serif)
axE.text(smoke_points[1], 1963, smoke_levels[1], fontsize=20, ha="center", va="center")
axE.text(smoke_points[2], 1909, smoke_levels[2], fontsize=20, ha="center", va="center")

# LCN2
axE.fill_between(lcn2_to_pts(lcn2_dens_x), y_lcn2, y_lcn2 - np.asarray(lcn2_dens_h), color=E_TEAL, lw=0, zorder=2)
nomo_scale(y_lcn2, lcn2_to_pts(lcn2_ticks), [str(v) for v in lcn2_ticks], off=42.3)

# total points, linear predictor, probabilities
nomo_scale(y_total, total_to_pts(total_ticks), [str(v) for v in total_ticks], off=36.5)
nomo_scale(y_lp, lp_to_pts(lp_ticks), lp_labels, off=39.6)
nomo_scale(y_p365, total_to_pts(p365_total), p365_labels, off=37)
nomo_scale(y_p1095, total_to_pts(p1095_total), p1095_labels, off=38)
nomo_scale(y_p1825, total_to_pts(p1825_total), p1825_labels, off=38)

row_names = ["Points", "Stage", "Age", "Smoking.status", "LCN2", "Total points", "Linear Predictor",
             "Probability of 365", "Probability of 1095", "Probability of 1825"]
row_y = [1607, 1704, 1818, 1933, 2046, 2148, 2240, 2331, 2424, 2517]
for name, yy in zip(row_names, row_y):
    txt(333, yy, name, 23.5, ha="right")

# =================== Panel F (calibration) ===================
axF = add_ax(105.5, 2651, 744.7, 3332.6)
sns.lineplot(x=[-0.04, 1.04], y=[-0.04, 1.04], ax=axF, color="#BEBEBE", lw=2.2, estimator=None, sort=False)
axF.vlines(rug5_x, 1.04 - np.asarray(rug5_h), 1.04, color=GREEN, lw=1.6)
axF.vlines(rug3_x, 1.04 - np.asarray(rug3_h), 1.04, color=RED, lw=1.6)
axF.vlines(rug1_x, 1.04 - np.asarray(rug1_h), 1.04, color=NAVY, lw=2.2)
for xs, ys, lo, hi, col in [(cal1_x, cal1_y, cal1_lo, cal1_hi, NAVY), (cal3_x, cal3_y, cal3_lo, cal3_hi, RED),
                            (cal5_x, cal5_y, cal5_lo, cal5_hi, GREEN)]:
    axF.errorbar(xs, ys, yerr=[np.subtract(ys, lo), np.subtract(hi, ys)], fmt="none", ecolor=col,
                 elinewidth=2.0, capsize=6, capthick=2.0, zorder=3)
    sns.lineplot(x=xs, y=ys, ax=axF, color=col, lw=2.2, marker="o", markersize=11,
                 markeredgewidth=0, markeredgecolor=col, estimator=None, sort=False, zorder=4)
for xs, km in [(cal1_x, cal1_km), (cal3_x, cal3_km), (cal5_x, cal5_km)]:
    sns.scatterplot(x=xs, y=km, ax=axF, marker="x", s=90, color=XBLUE, linewidth=2.4, zorder=5)
axF.set_xlim(-0.04, 1.04)
axF.set_ylim(-0.04, 1.04)
r_frame(axF, lw=2.2, size=21)
tk = [0, 0.2, 0.4, 0.6, 0.8, 1.0]
axF.set_xticks(tk, surv_labels)
axF.set_yticks(tk, surv_labels)
axF.set_xlabel("")
axF.set_ylabel("")
for yy, col, lab in [(0.134, NAVY, "1\u2212year"), (0.089, RED, "3\u2212year"),
                     (0.047, GREEN, "5\u2212year"), (0.002, "#BEBEBE", "Ideal line")]:
    axF.plot([0.739, 0.79], [yy, yy], color=col, lw=2.4)
    axF.text(0.822, yy, lab, fontsize=20, va="center")
txt(20, 2985, "Observed fraction survival probability", 25, rotation=90)
txt(428, 3400, "Nomogram predicted survival probability", 25)

# =================== Panel G (DCA) ===================
axG = add_ax(934, 2646.7, 1570.8, 3328.8)
g_series = [(allneg_x, allneg_y, SALMON), (allpos_x, allpos_y, PURPLE), (model_nb_x, model_nb_y, TEAL_G),
            (smoke_nb_x, smoke_nb_y, GREEN), (age_nb_x, age_nb_y, RED), (stage_nb_x, stage_nb_y, NAVY)]
for xs, ys, col in g_series:
    sns.lineplot(x=xs, y=ys, ax=axG, color=col, lw=2.4, estimator=None, sort=False)
axG.set_xlim(-0.0217, 1.017)
axG.set_ylim(-0.054, 0.314)
for s in ["top", "right"]:
    axG.spines[s].set_visible(False)
for s in ["left", "bottom"]:
    axG.spines[s].set_linewidth(2.4)
    axG.spines[s].set_color("black")
axG.set_xticks(tk, surv_labels)
axG.set_yticks([0, 0.1, 0.2, 0.3], ["0.0", "0.1", "0.2", "0.3"])
axG.tick_params(direction="out", length=12, width=2.0, labelsize=21, bottom=True, left=True, pad=5)
axG.set_xlabel("")
axG.set_ylabel("")
txt(1271, 2671, "5\u2212year", 21, ha="left")
for yy, col, lab in zip([2716.8, 2757.9, 2799.0, 2839.5, 2880.6, 2921.1],
                        [NAVY, RED, GREEN, TEAL_G, PURPLE, SALMON],
                        ["Stage", "Age", "Smoking.status", "Model", "All positive", "All negative"]):
    ov.plot([1274, 1306.5], [yy, yy], color=col, lw=2.6)
    txt(1328.5, yy, lab, 21, ha="left")
txt(846, 3001, "Net Benefit", 25, rotation=90)
txt(1226, 3405, "Threshold Probability", 25)

# =================== Panel H (ROC) ===================
axH = add_ax(1736.4, 2651, 2373.4, 3332.6)
sns.lineplot(x=[0, 1], y=[0, 1], ax=axH, color="#808080", lw=2.4, linestyle=(0, (4, 3)),
             estimator=None, sort=False)
for xs, ys, col in [(roc1_x, roc1_y, NAVY), (roc3_x, roc3_y, RED), (roc5_x, roc5_y, GREEN)]:
    sns.lineplot(x=xs, y=ys, ax=axH, color=col, lw=2.4, drawstyle="steps-post", estimator=None, sort=False)
axH.set_xlim(-0.009, 1.004)
axH.set_ylim(0, 1.01)
axH.set_xticks(tk, surv_labels)
axH.set_yticks(tk, surv_labels)
axH.set_xticks([0.1, 0.3, 0.5, 0.7, 0.9], minor=True)
axH.set_yticks([0.1, 0.3, 0.5, 0.7, 0.9], minor=True)
axH.grid(which="major", color="#EBEBEB", lw=2.6)
axH.grid(which="minor", color="#EBEBEB", lw=1.3)
axH.set_axisbelow(True)
r_frame(axH, lw=2.6, size=21)
axH.tick_params(which="minor", length=0)
axH.set_xlabel("")
axH.set_ylabel("")
txt(1972, 3181, "Model", 21, ha="left")
for yy, col, lab in zip([3224.6, 3265.7, 3306.8], [NAVY, RED, GREEN], roc_labels):
    ov.plot([1976, 2009], [yy, yy], color=col, lw=2.6)
    txt(2030.5, yy, lab, 21.5, ha="left")
txt(1639.5, 3011, "Sensitivity (TPR)", 25, rotation=90)
txt(2041, 3405, "1\u2212Specificity (FPR)", 25)

# panel letters
for lab, x, y in [("A", 20, 27), ("B", 1331, 26), ("C", 17, 750), ("D", 1335, 757), ("E", 19, 1594),
                  ("F", 20, 2630), ("G", 834, 2630), ("H", 1637, 2630)]:
    txt(x, y, lab, 32, weight="bold")

fig.savefig("out.png", dpi=100)
